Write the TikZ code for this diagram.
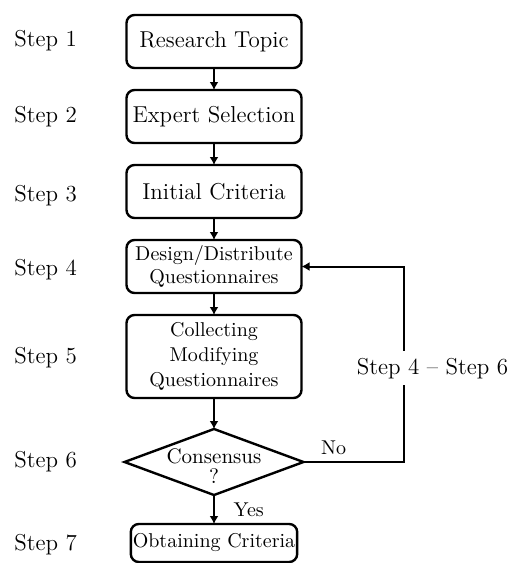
\documentclass[tikz,border=0pt]{standalone}
\usepackage{tikz}
\usetikzlibrary{arrows.meta,positioning,shapes.geometric}

\begin{document}
\begin{tikzpicture}[
  node distance=11pt,
  box/.style={draw, line width=1.2pt, rounded corners=4pt, align=center, minimum width=87.5pt, minimum height=26.5pt, inner sep=1pt, outer sep=0pt, font=\fontsize{11.5}{13}\selectfont},
  smallbox/.style={box, font=\fontsize{10}{11.8}\selectfont},
  decision/.style={draw, diamond, line width=1.2pt, minimum width=89.5pt, minimum height=33pt, inner sep=0pt, outer sep=0pt},
  steplab/.style={anchor=west, inner sep=0pt, font=\fontsize{11.5}{13}\selectfont},
  arrow/.style={-{Latex[length=4pt,width=4.5pt]}, line width=1pt}
]
\useasboundingbox (0,0) rectangle (258pt,-281.5pt);
\node[box] (topic) at (107pt,-20.75pt) {Research Topic};
\node[box, below=of topic] (expert) {Expert Selection};
\node[box, below=of expert] (initial) {Initial Criteria};
\node[smallbox, below=of initial] (design) {Design/Distribute\\Questionnaires};
\node[smallbox, below=of design, minimum height=41.5pt, font=\fontsize{10}{12.5}\selectfont] (collect) {Collecting\\Modifying\\Questionnaires};
\node[decision, below=15.5pt of collect] (cons) {};
\node[align=center, font=\fontsize{10.5}{10}\selectfont, yshift=-2pt] (constext) at (cons) {Consensus\\?};
\node[smallbox, below=14.5pt of cons, minimum width=82.5pt, minimum height=19pt] (obtain) {Obtaining Criteria};

\foreach \n/\y in {1/20.5,2/58.5,3/98,4/135,5/179,6/231,7/272.5}
  \node[steplab] (step\n) at (7pt,-\y pt) {Step \n};

\foreach \a/\b in {topic/expert,expert/initial,initial/design,design/collect,collect/cons}
  \draw[arrow] (\a) -- (\b);
\draw[arrow] (cons) -- node[right, xshift=6pt, font=\fontsize{10}{12}\selectfont] (yes) {Yes} (obtain);
\draw[arrow] (cons.east) -- node[above, pos=0.3, font=\fontsize{10}{12}\selectfont] (no) {No} ++(50pt,0)
  |- node[pos=0.24, fill=white, xshift=14.5pt, font=\fontsize{11.5}{13}\selectfont] (loop) {Step 4 -- Step 6} (design.east);
\end{tikzpicture}
\end{document}
